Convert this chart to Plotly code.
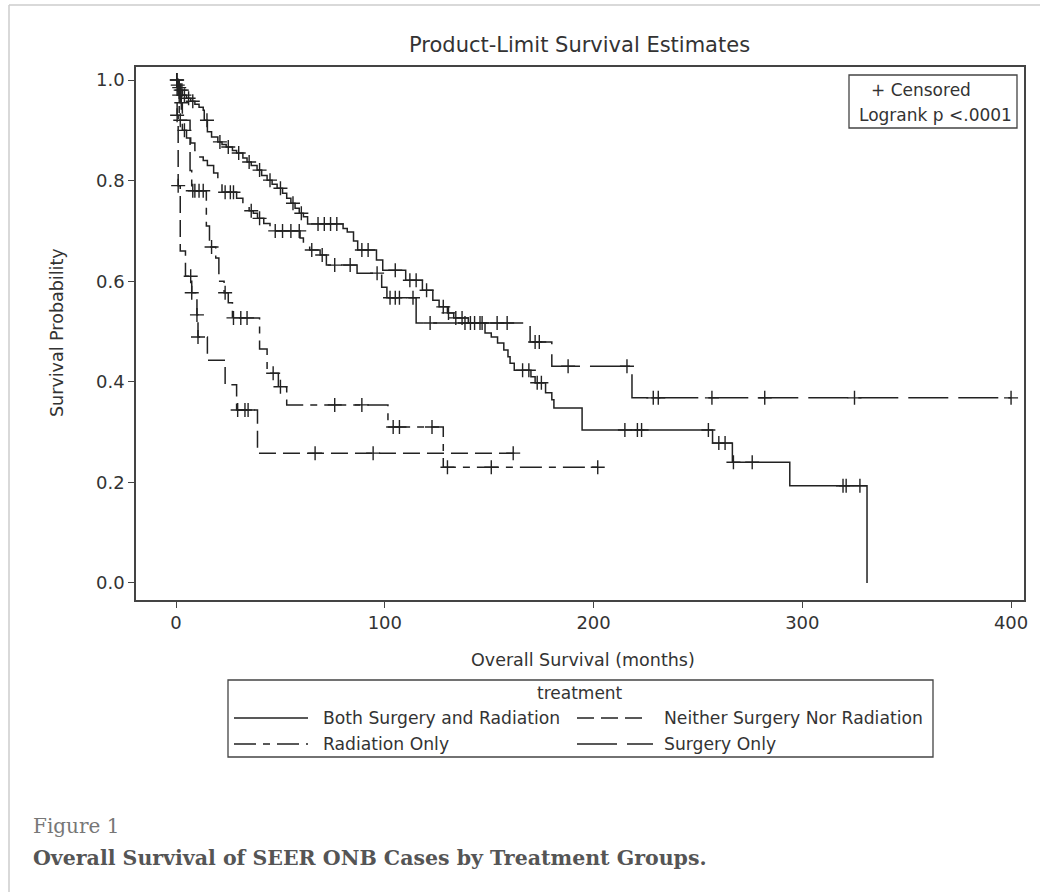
import plotly.graph_objects as go
import bisect

# ---------------- data ----------------
both_t = [0, 0.5, 1, 2, 3, 5, 7, 9, 11, 13, 13.5, 15, 17, 20, 22, 24, 27, 29, 32, 34, 36, 38.8, 41, 43.6,
          46, 48.4, 51, 53, 55, 57, 59, 61, 63, 80, 82, 85, 87, 96, 99, 110, 118, 123, 126, 130, 133, 140,
          148, 151, 154, 157, 159, 160, 162, 170, 172, 177, 180, 181, 194.5, 257, 266.5, 294, 331]
both_s = [1.0, 0.99, 0.985, 0.98, 0.97, 0.964, 0.958, 0.952, 0.946, 0.94, 0.92, 0.897, 0.887, 0.877, 0.872,
          0.867, 0.86, 0.855, 0.845, 0.837, 0.83, 0.821, 0.81, 0.801, 0.793, 0.785, 0.775, 0.765, 0.755,
          0.745, 0.735, 0.728, 0.714, 0.705, 0.698, 0.68, 0.662, 0.642, 0.622, 0.602, 0.582, 0.562, 0.549,
          0.537, 0.527, 0.517, 0.497, 0.489, 0.477, 0.463, 0.45, 0.437, 0.423, 0.41, 0.398, 0.378, 0.364,
          0.348, 0.304, 0.278, 0.24, 0.193, 0.0]
both_c = [0.3, 0.8, 1.5, 2.2, 2.8, 4, 6, 8, 14.8, 21, 25, 30, 35, 40, 45, 50, 56, 60, 68, 71, 74, 77, 89, 92,
          105, 112, 115, 120, 128, 130.5, 134, 137, 141, 143, 146.6, 166, 169, 173, 175, 215, 221, 223, 255,
          260, 263, 267, 276, 319.5, 321, 327.6]

surg_t = [0, 1, 2, 3, 5, 7, 9, 11, 13, 15, 18, 20, 22, 29, 32, 35, 37, 39, 42, 45, 59.4, 61, 64, 69, 72,
          86.7, 98.5, 101, 115, 169.6, 180, 218.4, 400]
surg_s = [1.0, 0.97, 0.955, 0.90, 0.885, 0.875, 0.86, 0.847, 0.84, 0.83, 0.815, 0.80, 0.777, 0.765, 0.752,
          0.74, 0.735, 0.725, 0.715, 0.70, 0.686, 0.672, 0.662, 0.652, 0.632, 0.616, 0.588, 0.567, 0.517,
          0.479, 0.431, 0.368, 0.368]
surg_c = [0.5, 1.5, 2.5, 4, 23.5, 26, 27.5, 36, 40, 47.5, 51, 55, 59, 65, 70, 76, 83.4, 96.3, 102.5, 105,
          107, 113.5, 121.7, 138.4, 145.6, 153.8, 158.6, 172, 174, 187.8, 216, 228.6, 231, 256.7, 282, 325, 400]

nei_t = [0, 0.5, 1, 2, 4.5, 7.5, 10, 10.5, 15, 23.5, 29, 39, 162]
nei_s = [1.0, 0.93, 0.79, 0.66, 0.61, 0.577, 0.533, 0.489, 0.443, 0.394, 0.344, 0.258, 0.258]
nei_c = [0.5, 1, 7, 7.5, 10, 10.5, 29.5, 33, 34.5, 66.6, 94.4, 161.5]

rad_t = [0, 1.5, 6.7, 7.5, 14.5, 16, 19, 20.5, 23, 25, 27, 40, 43.6, 49, 53, 101.5, 128, 202]
rad_s = [1.0, 0.92, 0.82, 0.78, 0.71, 0.668, 0.646, 0.60, 0.577, 0.557, 0.527, 0.465, 0.417, 0.39, 0.354,
         0.31, 0.23, 0.23]
rad_c = [2, 8, 9, 11, 13, 17, 23.5, 27.5, 31, 34, 46.5, 50, 76, 89, 104, 107, 122.6, 130, 151, 202]

groups = ["Both Surgery and Radiation", "Neither Surgery Nor Radiation", "Radiation Only", "Surgery Only"]
x_ticks = [0, 100, 200, 300, 400]
y_ticks = [0.0, 0.2, 0.4, 0.6, 0.8, 1.0]

# ---------------- styling ----------------
INK = "#222222"
FONT = "DejaVu Sans, Liberation Sans, Arial, sans-serif"
dashes = {
    "Both Surgery and Radiation": "solid",
    "Neither Surgery Nor Radiation": "17px,7px",
    "Radiation Only": "22px,7px,7px,7px",
    "Surgery Only": "40px,10px",
}
series = {
    "Both Surgery and Radiation": (both_t, both_s, both_c),
    "Neither Surgery Nor Radiation": (nei_t, nei_s, nei_c),
    "Radiation Only": (rad_t, rad_s, rad_c),
    "Surgery Only": (surg_t, surg_s, surg_c),
}


def km_at(times, surv, t):
    i = bisect.bisect_right(times, t) - 1
    return surv[max(i, 0)]


fig = go.Figure()
for g in groups:
    t, s, c = series[g]
    fig.add_trace(go.Scatter(x=t, y=s, mode="lines", line=dict(shape="hv", color=INK, width=1.5, dash=dashes[g]),
                             name=g, showlegend=False, hoverinfo="skip"))
    fig.add_trace(go.Scatter(x=c, y=[km_at(t, s, v) for v in c], mode="markers",
                             marker=dict(symbol="cross-thin", size=10, color=INK, line=dict(color=INK, width=1.4)),
                             showlegend=False, hoverinfo="skip"))

# plot area in pixels
L, R, T, B = 136, 1024, 67, 600
W, H = 1040, 892


def px(x):
    return (x - L) / (R - L)


def py(y):
    return (B - y) / (B - T)


fig.update_layout(
    width=W, height=H,
    margin=dict(l=L, r=W - R, t=T, b=H - B, pad=0),
    paper_bgcolor="white", plot_bgcolor="white",
    font=dict(family=FONT, color="#333333", size=14),
    showlegend=False,
)
fig.update_xaxes(range=[-19.2, 406.2], tickvals=x_ticks, ticks="outside", ticklen=6, tickcolor="#444",
                 showline=True, linecolor="#444", linewidth=1.5, mirror=True, showgrid=False, zeroline=False,
                 tickfont=dict(size=18, color="#333"))
fig.update_yaxes(range=[-0.034, 1.026], tickvals=y_ticks, tickformat=".1f", ticks="outside", ticklen=6,
                 tickcolor="#444", showline=True, linecolor="#444", linewidth=1.5, mirror=True,
                 showgrid=False, zeroline=False, tickfont=dict(size=18, color="#333"))

ann = []
shapes = []


def text(x, y, s, size=16, color="#333333", family=FONT, xanchor="center", angle=0):
    ann.append(dict(x=px(x), y=py(y), xref="paper", yref="paper", text=s, showarrow=False,
                    font=dict(size=size, color=color, family=family), xanchor=xanchor, yanchor="middle",
                    textangle=angle))


def rect(x0, y0, x1, y1, color="#444", width=1.3):
    shapes.append(dict(type="rect", xref="paper", yref="paper", x0=px(x0), y0=py(y0), x1=px(x1), y1=py(y1),
                       line=dict(color=color, width=width), fillcolor="rgba(0,0,0,0)", layer="above"))


def hline(x0, x1, y, dash="solid", color=INK, width=1.5):
    shapes.append(dict(type="line", xref="paper", yref="paper", x0=px(x0), y0=py(y), x1=px(x1), y1=py(y),
                       line=dict(color=color, width=width, dash=dash)))


# titles
text(579, 45, "Product-Limit Survival Estimates", size=21)
text(583, 660, "Overall Survival (months)", size=17.5)
text(57, 333, "Survival Probability", size=17.5, angle=-90)

# inset box
rect(849, 75, 1017, 128, width=1.3)
text(921, 90, "+ Censored", size=17)
text(935, 115, "Logrank p <.0001", size=17)

# legend box
rect(228, 680, 933, 757, width=1.3)
text(580, 693, "treatment", size=17)
legend_pos = [(234, 308, 321, 718), (577, 643, 662, 718), (234, 308, 321, 744), (577, 653, 662, 744)]
for g, (a, b, tx, ty) in zip(groups, legend_pos):
    hline(a, b, ty, dash=dashes[g])
    text(tx, ty, g, size=17.2, xanchor="left")

# outer page frame
shapes.append(dict(type="line", xref="paper", yref="paper", x0=px(9), x1=px(9), y0=py(5), y1=py(892),
                   line=dict(color="#cccccc", width=1.5)))
shapes.append(dict(type="line", xref="paper", yref="paper", x0=px(9), x1=px(1040), y0=py(5), y1=py(5),
                   line=dict(color="#cccccc", width=1.5)))

# caption
SERIF = "DejaVu Serif, Liberation Serif, serif"
text(31, 826, "Figure 1", size=20, color="#777777", family=SERIF, xanchor="left")
text(31, 858, "<b>Overall Survival of SEER ONB Cases by Treatment Groups.</b>", size=20.5, color="#555555",
     family=SERIF, xanchor="left")

fig.update_layout(annotations=ann, shapes=shapes)
fig.write_html("out.html")
